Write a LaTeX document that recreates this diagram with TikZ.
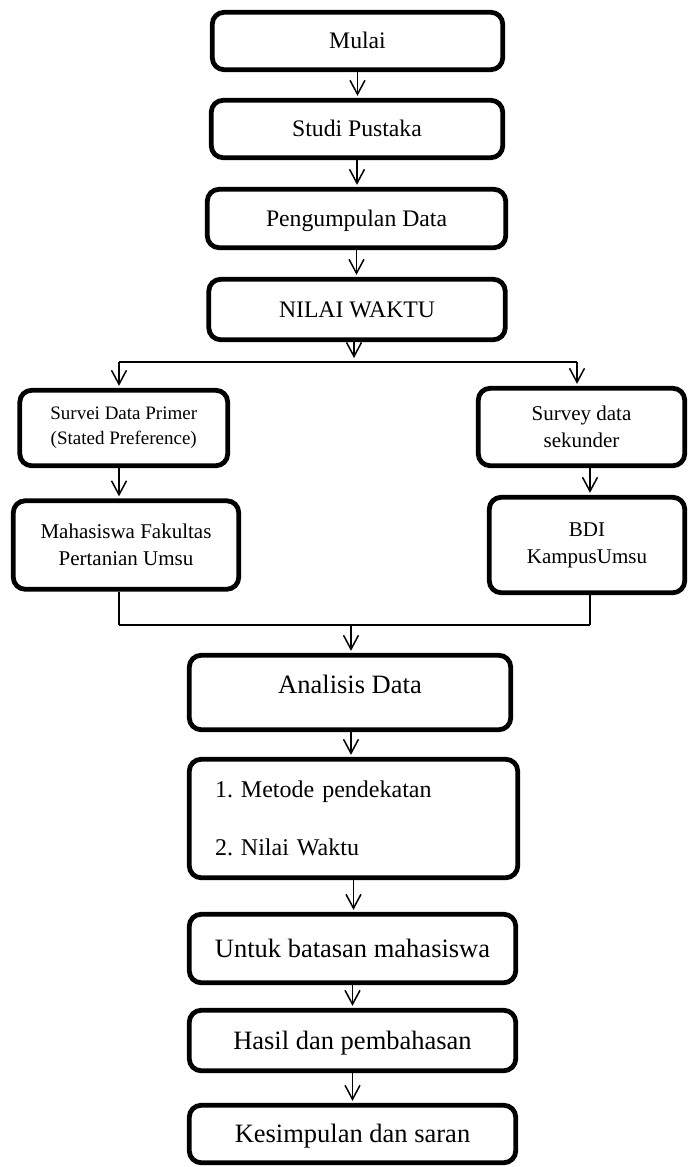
\documentclass[tikz,border=0pt]{standalone}
\usepackage{fontspec}
\setmainfont{Liberation Serif}
\usetikzlibrary{arrows.meta,calc}
\begin{document}
\frenchspacing
\begin{tikzpicture}[x=1pt,y=-1pt,
  box/.style={draw=black,line width=4.8pt,rounded corners=12pt,inner sep=0pt,align=center},
  onea/.style={text height=15.6pt,text depth=0pt},
  oneb/.style={text height=17.5pt,text depth=0pt},
  conn/.style={line width=1.5pt},
  arr/.style={line width=1.5pt,-{Straight Barb[length=14pt,width=15pt]},shorten >=2pt},
  fa/.style={font=\fontsize{23.7}{28}\selectfont},
  fb/.style={font=\fontsize{26.5}{32}\selectfont},
  fs/.style={font=\fontsize{19}{25}\selectfont},
  fm/.style={font=\fontsize{21}{27}\selectfont}]
\useasboundingbox (0,0) rectangle (688,1167);

\node[box,onea,fa,minimum width=290.5pt,minimum height=57.5pt] (mul) at (357.5,41) {Mulai};
\node[box,onea,fa,minimum width=291.5pt,minimum height=57.5pt] (stu) at (357,129) {Studi Pustaka};
\node[box,onea,fa,minimum width=298.5pt,minimum height=58.5pt] (pen) at (356.5,218.5) {Pengumpulan Data};
\node[box,onea,fa,minimum width=296.5pt,minimum height=60.5pt] (nil) at (357,309.5) {NILAI WAKTU};

\node[box,fs,minimum width=208pt,minimum height=75.5pt] (sv1) at (123.75,428) {Survei Data Primer\\(Stated Preference)};
\node[box,fm,minimum width=206.5pt,minimum height=77.5pt] (sv2) at (581.5,427) {Survey data\\sekunder};
\node[box,fm,minimum width=225.5pt,minimum height=88.5pt] (mah) at (126,545) {Mahasiswa Fakultas\\Pertanian Umsu};
\node[box,fm,minimum width=195.5pt,minimum height=95.5pt] (bdi) at (587,545) {BDI\\KampusUmsu};

\node[box,fb,text height=17.5pt,text depth=15pt,minimum width=321.5pt,minimum height=74.5pt] (ana) at (350,692.5) {Analisis Data};
\node[box,font=\fontsize{24}{58}\selectfont,align=left,text width=277pt,inner xsep=25.75pt,minimum width=328.5pt,minimum height=118.5pt] (met) at (353.5,818.5) {1. Metode pendekatan\\2. Nilai Waktu};
\node[box,oneb,fb,minimum width=326.5pt,minimum height=68.5pt] (unt) at (352.5,948.5) {Untuk batasan mahasiswa};
\node[box,oneb,fb,minimum width=326.5pt,minimum height=60.5pt] (has) at (352.5,1040.5) {Hasil dan pembahasan};
\node[box,oneb,fb,minimum width=326.5pt,minimum height=57.5pt] (kes) at (352.5,1134) {Kesimpulan dan saran};

\coordinate (brc) at (354,362);
\coordinate (bl) at (119,362);
\coordinate (brr) at (577,362);
\coordinate (ml) at (119,625);
\coordinate (mr) at (590,625);
\coordinate (mc) at (351,625);

\draw[arr] (mul.south) -- (mul.south |- stu.north);
\draw[arr] (stu.south) -- (stu.south |- pen.north);
\draw[arr] (pen.south) -- (pen.south |- nil.north);
\draw[arr,shorten >=4pt] (brc |- nil.south) -- (brc);
\draw[conn] (bl) -- (brr);
\draw[arr] (bl) -- (bl |- sv1.north);
\draw[arr] (brr) -- (brr |- sv2.north);
\draw[arr] (bl |- sv1.south) -- (bl |- mah.north);
\draw[arr] (mr |- sv2.south) -- (mr |- bdi.north);
\draw[conn] (ml |- mah.south) -- (ml);
\draw[conn] (mr |- bdi.south) -- (mr);
\draw[conn] (ml) -- (mr);
\draw[arr] (mc) -- (mc |- ana.north);
\draw[arr] (mc |- ana.south) -- (mc |- met.north);
\draw[arr] (met.south) -- (met.south |- unt.north);
\draw[arr] (unt.south) -- (unt.south |- has.north);
\draw[arr] (has.south) -- (has.south |- kes.north);
\end{tikzpicture}
\end{document}
